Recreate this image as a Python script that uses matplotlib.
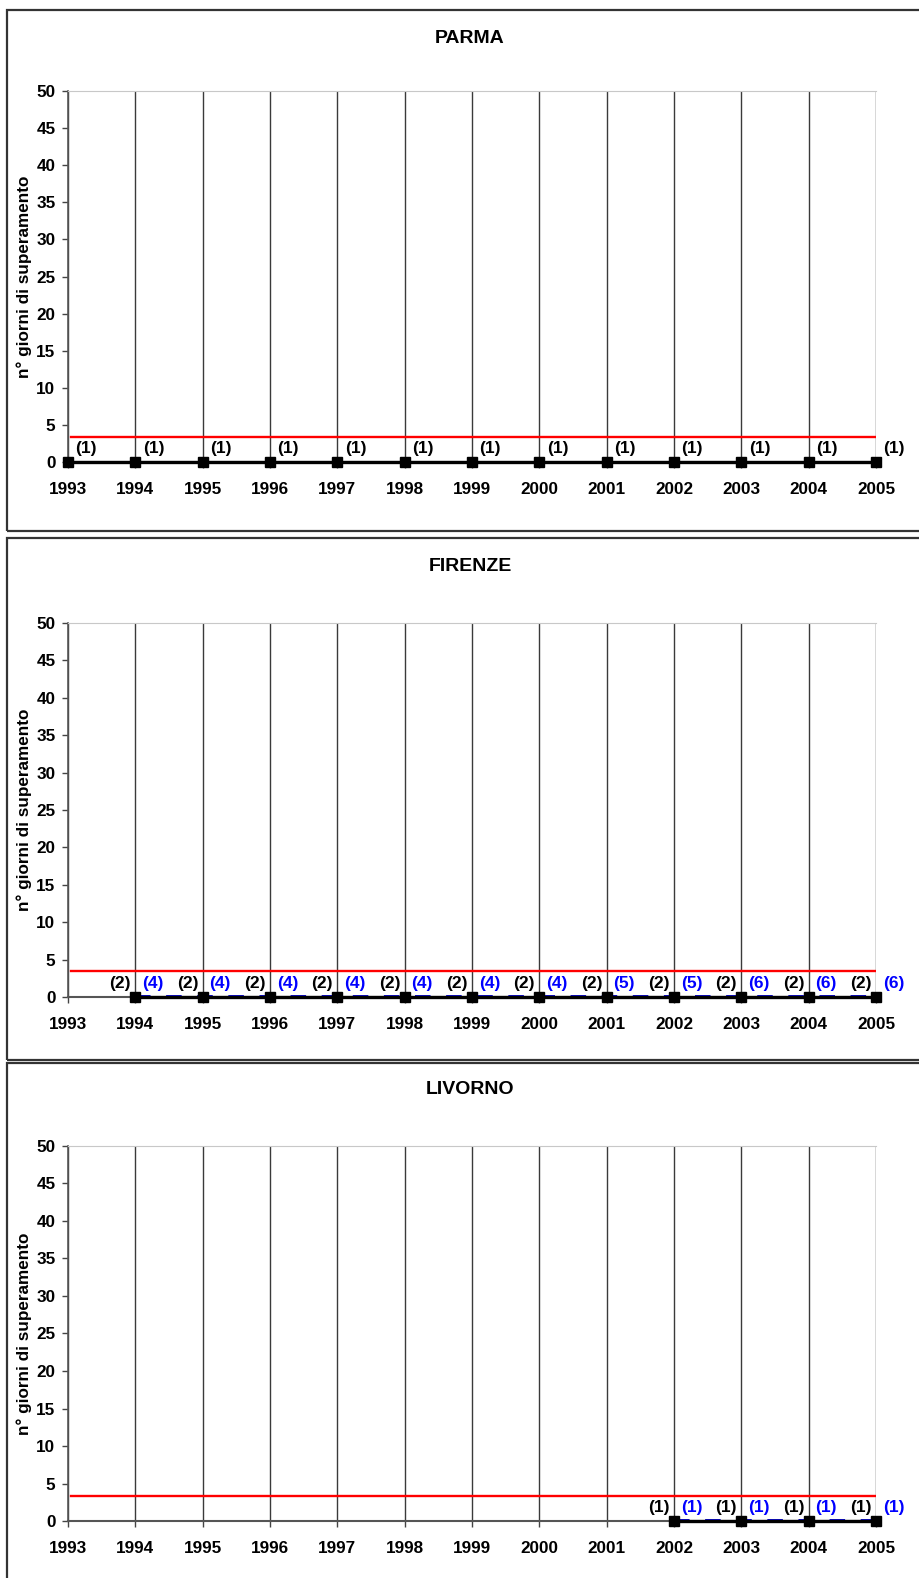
import numpy as np
import matplotlib.pyplot as plt
from matplotlib.patches import Rectangle

plt.rcParams['font.family'] = ['Liberation Sans', 'DejaVu Sans']
plt.rcParams['font.weight'] = 'bold'

# dati
anni = list(range(1993, 2006))

parma_anni = list(range(1993, 2006))
parma_val = [0] * 13
parma_lab = [1] * 13
parma_soglia = 3.4

firenze_anni = list(range(1994, 2006))
firenze_val = [0] * 12
firenze_lab_nero = [2] * 12
firenze_lab_blu = [4, 4, 4, 4, 4, 4, 4, 5, 5, 6, 6, 6]
firenze_soglia = 3.5

livorno_anni = [2002, 2003, 2004, 2005]
livorno_val = [0, 0, 0, 0]
livorno_lab_nero = [1, 1, 1, 1]
livorno_lab_blu = [1, 1, 1, 1]
livorno_soglia = 3.4

fig = plt.figure(figsize=(9.2, 15.78), dpi=100)

# cornici dei tre grafici
for b, t in [(0.6635, 0.9937), (0.3283, 0.6591), (-0.01, 0.3264)]:
    fig.patches.append(Rectangle((0.0076, b), 1.0, t - b, transform=fig.transFigure,
                                 fill=False, edgecolor='#333333', linewidth=1.6))


def pannello(rect, titolo, ty, x, y, soglia, lab_nero, lab_blu=None):
    ax = fig.add_axes(rect)
    ax.set_xlim(1993, 2005)
    ax.set_ylim(0, 50)
    ax.set_xticks(anni)
    ax.set_yticks(range(0, 51, 5))
    ax.tick_params(axis='both', labelsize=12.3, direction='out', length=4, width=1, color='#444444')
    ax.tick_params(axis='x', pad=10.5)
    ax.tick_params(axis='y', pad=5)
    for lab in ax.get_xticklabels() + ax.get_yticklabels():
        lab.set_fontweight('bold')
    ax.grid(axis='x', color='#3a3a3a', linewidth=1)
    ax.spines['right'].set_visible(False)
    ax.spines['top'].set_color('#c8c8c8')
    ax.spines['left'].set_color('#555555')
    ax.spines['bottom'].set_color('#555555')
    ax.spines['left'].set_linewidth(1.2)
    ax.spines['bottom'].set_linewidth(1.5)
    ax.set_ylabel('n° giorni di superamento', fontsize=12.3, fontweight='bold', labelpad=3)
    fig.text(0.511, ty, titolo, ha='center', va='center', fontsize=14, fontweight='bold')

    ax.plot([1993.05, 2005], [soglia, soglia], color='red', linewidth=1.7, zorder=3)
    if lab_blu is not None:
        ax.plot(x, y, color='#0000cc', linewidth=2.8, linestyle=(0, (4, 4)), zorder=3, clip_on=False)
    ax.plot(x, y, color='black', linewidth=2.4, marker='s', markersize=6.5, zorder=4, clip_on=False)

    for i in range(len(x)):
        if lab_blu is None:
            ax.annotate('(%d)' % lab_nero[i], (x[i], y[i]), xytext=(13, 9.5), textcoords='offset points',
                        ha='center', va='center', fontsize=12.5, fontweight='bold', color='black',
                        annotation_clip=False)
        else:
            ax.annotate('(%d)' % lab_nero[i], (x[i], y[i]), xytext=(-11, 10), textcoords='offset points',
                        ha='center', va='center', fontsize=12.5, fontweight='bold', color='black',
                        annotation_clip=False)
            ax.annotate('(%d)' % lab_blu[i], (x[i], y[i]), xytext=(12.5, 10), textcoords='offset points',
                        ha='center', va='center', fontsize=12.5, fontweight='bold', color='#0000ff',
                        annotation_clip=False)
    return ax


pannello([0.0739, 0.7072, 0.8783, 0.2351], 'PARMA', 0.9757, parma_anni, parma_val, parma_soglia, parma_lab)
pannello([0.0739, 0.3682, 0.8783, 0.2370], 'FIRENZE', 0.6413, firenze_anni, firenze_val, firenze_soglia,
         firenze_lab_nero, firenze_lab_blu)
pannello([0.0739, 0.0361, 0.8783, 0.2377], 'LIVORNO', 0.3093, livorno_anni, livorno_val, livorno_soglia,
         livorno_lab_nero, livorno_lab_blu)

fig.savefig('out.png', dpi=100)
